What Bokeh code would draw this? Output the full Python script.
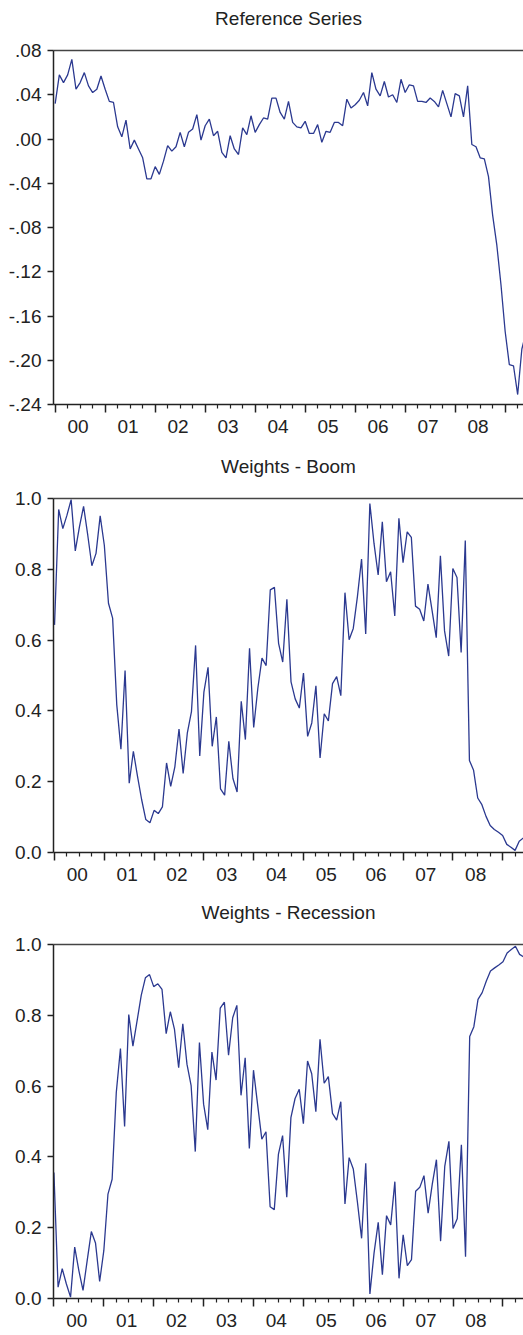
from bokeh.plotting import figure
from bokeh.models import LinearAxis, FixedTicker, CustomJSTickFormatter, Range1d
from bokeh.layouts import column
from bokeh.embed import file_html
from bokeh.resources import INLINE

# ---------------- data (monthly, index 0 = 2000M01) ----------------
year_labels = ["00", "01", "02", "03", "04", "05", "06", "07", "08"]

ref_series = [
    0.032, 0.058, 0.051, 0.058, 0.072, 0.045, 0.051, 0.060, 0.048, 0.042, 0.045, 0.057,
    0.045, 0.034, 0.033, 0.011, 0.002, 0.017, -0.009, -0.001, -0.009, -0.017, -0.036, -0.036,
    -0.025, -0.032, -0.020, -0.006, -0.011, -0.007, 0.006, -0.007, 0.006, 0.009, 0.022, -0.001,
    0.012, 0.018, 0.003, 0.007, -0.012, -0.017, 0.003, -0.009, -0.014, 0.010, 0.004, 0.021,
    0.006, 0.013, 0.019, 0.018, 0.037, 0.037, 0.024, 0.018, 0.034, 0.015, 0.011, 0.010,
    0.016, 0.005, 0.005, 0.013, -0.003, 0.007, 0.006, 0.015, 0.015, 0.012, 0.036, 0.028,
    0.031, 0.035, 0.042, 0.030, 0.060, 0.045, 0.039, 0.052, 0.038, 0.040, 0.033, 0.054,
    0.042, 0.049, 0.048, 0.034, 0.034, 0.033, 0.037, 0.034, 0.029, 0.044, 0.032, 0.020,
    0.041, 0.039, 0.020, 0.048, -0.005, -0.007, -0.017, -0.018, -0.034, -0.069, -0.096, -0.132,
    -0.174, -0.204, -0.205, -0.231, -0.190, -0.175,
]

weights_boom = [
    0.643, 0.969, 0.915, 0.953, 0.997, 0.852, 0.920, 0.978, 0.897, 0.810, 0.845, 0.951,
    0.868, 0.704, 0.662, 0.417, 0.292, 0.514, 0.196, 0.286, 0.215, 0.149, 0.093, 0.084,
    0.119, 0.110, 0.129, 0.253, 0.187, 0.242, 0.349, 0.223, 0.337, 0.398, 0.585, 0.273,
    0.453, 0.523, 0.300, 0.383, 0.180, 0.162, 0.314, 0.209, 0.171, 0.427, 0.319, 0.577,
    0.353, 0.464, 0.549, 0.528, 0.742, 0.749, 0.591, 0.538, 0.715, 0.482, 0.434, 0.408,
    0.507, 0.328, 0.366, 0.471, 0.267, 0.392, 0.372, 0.477, 0.497, 0.443, 0.734, 0.601,
    0.633, 0.723, 0.829, 0.617, 0.986, 0.873, 0.784, 0.934, 0.765, 0.793, 0.668, 0.944,
    0.819, 0.906, 0.890, 0.696, 0.687, 0.654, 0.758, 0.683, 0.607, 0.838, 0.626, 0.555,
    0.802, 0.777, 0.565, 0.881, 0.260, 0.232, 0.154, 0.135, 0.102, 0.076, 0.065, 0.057,
    0.048, 0.023, 0.015, 0.006, 0.032, 0.041,
]

weights_recession = [
    0.356, 0.032, 0.084, 0.041, 0.004, 0.145, 0.079, 0.023, 0.107, 0.189, 0.157, 0.048,
    0.135, 0.295, 0.337, 0.582, 0.706, 0.486, 0.802, 0.713, 0.784, 0.856, 0.906, 0.915,
    0.881, 0.889, 0.873, 0.748, 0.810, 0.760, 0.652, 0.776, 0.662, 0.601, 0.415, 0.723,
    0.549, 0.477, 0.696, 0.617, 0.820, 0.837, 0.687, 0.793, 0.828, 0.574, 0.680, 0.424,
    0.645, 0.547, 0.450, 0.471, 0.259, 0.251, 0.408, 0.460, 0.286, 0.511, 0.565, 0.591,
    0.494, 0.671, 0.635, 0.528, 0.732, 0.608, 0.627, 0.523, 0.504, 0.556, 0.267, 0.398,
    0.366, 0.272, 0.170, 0.382, 0.013, 0.129, 0.215, 0.067, 0.234, 0.208, 0.330, 0.057,
    0.180, 0.093, 0.110, 0.303, 0.314, 0.347, 0.241, 0.323, 0.392, 0.162, 0.373, 0.444,
    0.198, 0.225, 0.434, 0.118, 0.740, 0.768, 0.845, 0.864, 0.897, 0.925, 0.934, 0.942,
    0.951, 0.976, 0.986, 0.995, 0.972, 0.965,
]

ref_ticks = [-0.24, -0.20, -0.16, -0.12, -0.08, -0.04, 0.0, 0.04, 0.08]
ref_tick_labels = ["-.24", "-.20", "-.16", "-.12", "-.08", "-.04", ".00", ".04", ".08"]
weight_ticks = [0.0, 0.2, 0.4, 0.6, 0.8, 1.0]
weight_tick_labels = ["0.0", "0.2", "0.4", "0.6", "0.8", "1.0"]

# ---------------- styling ----------------
FONT = "Liberation Sans"
TXT = "#222222"
AX = "#222222"
LINE = "#2B3990"
PX_PER_MONTH = 50.0 / 12.0
FIG_W = 523

LOOKUP = """
for (let i = 0; i < tvals.length; i++) {
  if (Math.abs(tvals[i] - tick) < 1e-9) { return labs[i]; }
}
return '';
"""

year_starts = [12 * k for k in range(10)]
quarters = [12 * k + q for k in range(10) for q in (3, 6, 9)]
year_mids = [12 * k + 5.5 for k in range(len(year_labels))]


def make_panel(title, values, yticks, ylabels, yr, x_start, border_left,
               height, border_top, border_bottom):
    frame_w = FIG_W - border_left
    x_end = x_start + frame_w / PX_PER_MONTH
    p = figure(width=FIG_W, height=height, output_backend="svg",
               toolbar_location=None, x_axis_type=None, y_axis_type=None,
               x_range=Range1d(x_start, x_end), y_range=Range1d(*yr),
               min_border_left=border_left, min_border_right=0,
               min_border_top=border_top, min_border_bottom=border_bottom)
    p.outline_line_color = None
    p.background_fill_color = "white"
    p.border_fill_color = "white"

    p.title.text = title
    p.title.align = "center"
    p.title.offset = 3
    p.title.text_font = FONT
    p.title.text_font_size = "19px"
    p.title.text_font_style = "normal"
    p.title.text_color = TXT
    p.title.standoff = 4

    # left axis
    ya = LinearAxis(ticker=FixedTicker(ticks=yticks),
                    formatter=CustomJSTickFormatter(args=dict(tvals=yticks, labs=ylabels), code=LOOKUP))
    ya.major_tick_out = 6
    ya.major_tick_in = 0
    ya.minor_tick_out = 0
    ya.minor_tick_in = 0
    ya.axis_line_color = AX
    ya.axis_line_width = 1.5
    ya.major_tick_line_color = AX
    ya.major_tick_line_width = 1.5
    ya.major_label_text_font = FONT
    ya.major_label_text_font_size = "19px"
    ya.major_label_text_color = TXT
    ya.major_label_standoff = 6
    p.add_layout(ya, "left")

    # bottom tick axis (year ticks + quarterly minor ticks)
    xt = LinearAxis(ticker=FixedTicker(ticks=year_starts, minor_ticks=quarters),
                    formatter=CustomJSTickFormatter(code="return '';"))
    xt.major_tick_out = 8
    xt.major_tick_in = 0
    xt.minor_tick_out = 4
    xt.minor_tick_in = 0
    xt.axis_line_color = AX
    xt.axis_line_width = 1.5
    xt.major_tick_line_color = AX
    xt.major_tick_line_width = 1.5
    xt.minor_tick_line_color = AX
    xt.minor_tick_line_width = 1.2
    xt.major_label_text_font_size = "0px"
    xt.major_label_standoff = 0
    p.add_layout(xt, "below")

    # bottom label axis (year labels centred in each year)
    xl = LinearAxis(ticker=FixedTicker(ticks=year_mids),
                    formatter=CustomJSTickFormatter(args=dict(tvals=year_mids, labs=year_labels), code=LOOKUP))
    xl.axis_line_color = None
    xl.major_tick_line_color = None
    xl.minor_tick_line_color = None
    xl.major_tick_out = 0
    xl.major_tick_in = 0
    xl.minor_tick_out = 0
    xl.minor_tick_in = 0
    xl.major_label_text_font = FONT
    xl.major_label_text_font_size = "19px"
    xl.major_label_text_color = TXT
    xl.major_label_standoff = 7
    p.add_layout(xl, "below")

    # top frame line; one invisible tick of fixed length spaces the title away from the frame
    ta = LinearAxis(ticker=FixedTicker(ticks=[48]), formatter=CustomJSTickFormatter(code="return '';"))
    ta.axis_line_color = "#444444"
    ta.axis_line_width = 1.5
    ta.major_tick_out = 20
    ta.major_tick_in = 0
    ta.major_tick_line_color = None
    ta.minor_tick_out = 0
    ta.minor_tick_in = 0
    ta.minor_tick_line_color = None
    ta.major_label_text_font_size = "0px"
    ta.major_label_standoff = 0
    p.add_layout(ta, "above")

    months = list(range(len(values)))
    p.line(months, values, line_color=LINE, line_width=1.3)
    return p


p1 = make_panel("Reference Series", ref_series, ref_ticks, ref_tick_labels, (-0.24, 0.08),
                -0.4, 53, 448, 50, 44)
p2 = make_panel("Weights - Boom", weights_boom, weight_ticks, weight_tick_labels, (0.0, 1.0),
                -0.25, 51, 446, 50, 42)
p3 = make_panel("Weights - Recession", weights_recession, weight_ticks, weight_tick_labels, (0.0, 1.0),
                -0.1, 52, 441, 50, 37)

layout = column(p1, p2, p3, spacing=0)
open("out.html", "w").write(file_html(layout, INLINE))
